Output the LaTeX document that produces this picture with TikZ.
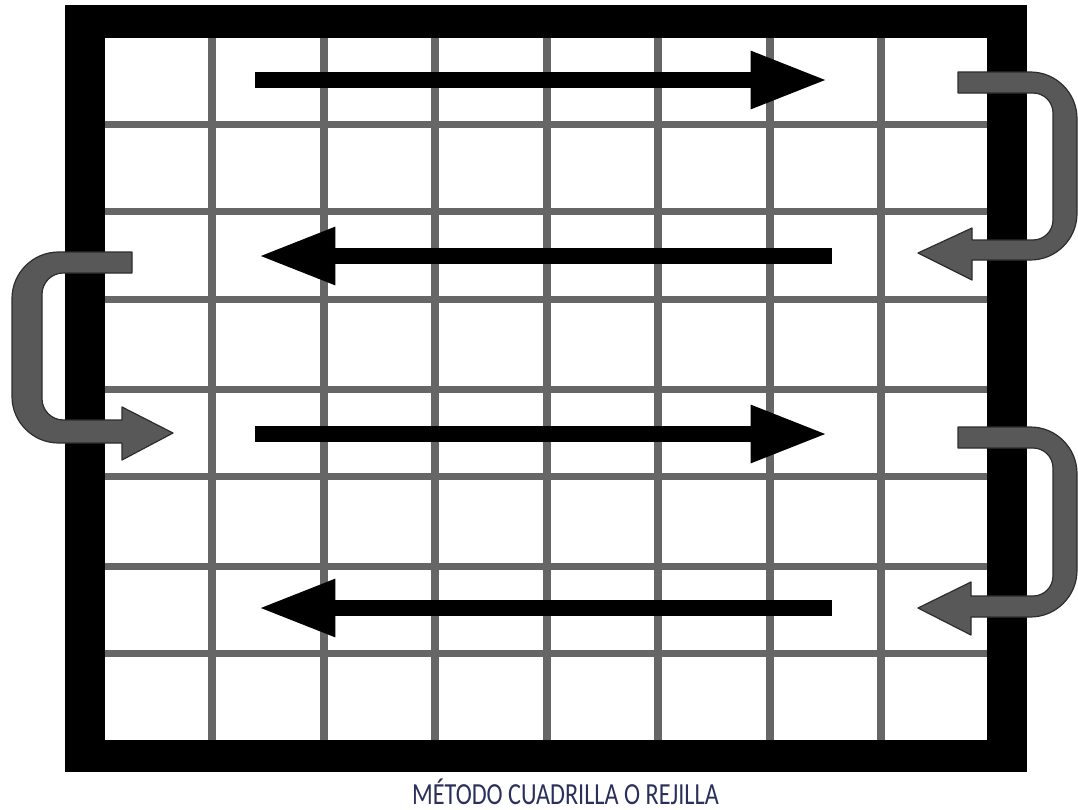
\documentclass[tikz,border=0pt]{standalone}
\usepackage{fontspec}
\setmainfont{Carlito}
\usetikzlibrary{arrows.meta}
\definecolor{gridgray}{RGB}{102,102,102}
\definecolor{turnfill}{RGB}{88,88,88}
\definecolor{turnedge}{RGB}{45,45,45}
\definecolor{titleblue}{RGB}{42,48,92}
\tikzset{
  gridline/.style={draw=gridgray},
  rowarrow/.style={draw=black, line width=12.5pt, line cap=butt,
    -{Triangle[length=58pt,width=40pt]}},
  turnarrow/.style={fill=turnfill, draw=turnedge, line width=0.9pt, line join=round},
  titletext/.style={text=titleblue, font=\fontsize{23}{26}\selectfont, inner sep=0pt}
}
\begin{document}
\begin{tikzpicture}[x=0.75pt,y=-0.75pt]
\useasboundingbox (0,0) rectangle (1078,810);
% frame
\fill[black] (65,5) rectangle (1027,772);
\fill[white] (105,38) rectangle (987,740);
% grid
\foreach \gx in {212,323.5,435,546.5,658,769.5,881}
  \draw[gridline, line width=6pt] (\gx,38) -- (\gx,740);
\foreach \gy in {124,211.5,299,389,476,566,653}
  \draw[gridline, line width=5.25pt] (105,\gy) -- (987,\gy);
% black row arrows
\coordinate (r1s) at (255,80);  \coordinate (r1e) at (828,80);
\coordinate (r3s) at (832,256); \coordinate (r3e) at (258,256);
\coordinate (r5s) at (255,434); \coordinate (r5e) at (828,434);
\coordinate (r7s) at (832,608); \coordinate (r7e) at (258,608);
\draw[rowarrow] (r1s) -- (r1e);
\draw[rowarrow] (r3s) -- (r3e);
\draw[rowarrow] (r5s) -- (r5e);
\draw[rowarrow] (r7s) -- (r7e);
% gray U-turn arrows
% right, top
\draw[turnarrow] (958,72) [rounded corners=35pt] -- (1077,72) -- (1077,260) [sharp corners] -- (972,260)
  -- (972,280) -- (918,253) -- (972,228) -- (972,240) [rounded corners=15pt] -- (1053,240) -- (1053,93) [sharp corners] -- (958,93) -- cycle;
% left
\draw[turnarrow] (132,252) [rounded corners=35pt] -- (12,252) -- (12,443) [sharp corners] -- (122,443)
  -- (122,460) -- (173,433) -- (122,407) -- (122,420) [rounded corners=16pt] -- (42,420) -- (42,273) [sharp corners] -- (132,273) -- cycle;
% right, bottom
\draw[turnarrow] (958,427) [rounded corners=35pt] -- (1077,427) -- (1077,617) [sharp corners] -- (971,617)
  -- (971,635) -- (918,608) -- (971,582) -- (971,596) [rounded corners=15pt] -- (1053,596) -- (1053,448) [sharp corners] -- (958,448) -- cycle;
% title
\node[titletext, anchor=base] (title) at (565.5,804) {\scalebox{0.79}[1]{MÉTODO CUADRILLA O REJILLA}};
\end{tikzpicture}
\end{document}
